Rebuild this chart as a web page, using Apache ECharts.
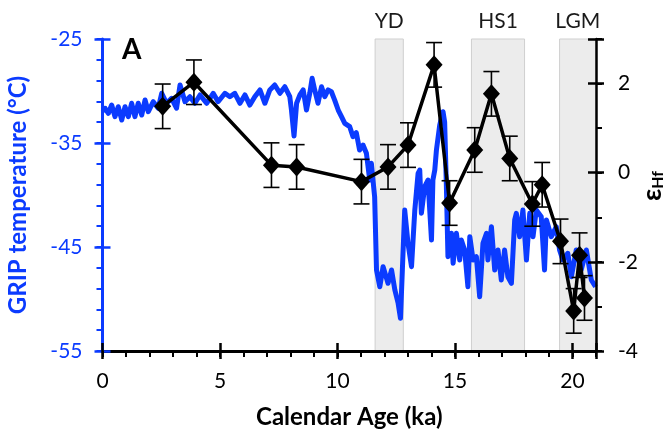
<!DOCTYPE html>
<html><head><meta charset="utf-8">
<script src="https://cdn.jsdelivr.net/npm/echarts@6/dist/echarts.min.js"></script>
<style>html,body{margin:0;padding:0;background:#fff}#c{width:670px;height:433px}</style>
</head><body><div id="c"></div>
<script>
// GRIP temperature record (ka, °C)
const gripAge = [0.02,0.11,0.25,0.39,0.53,0.67,0.82,0.96,1.10,1.24,1.38,1.52,1.67,1.81,1.95,2.16,2.37,2.52,2.73,2.94,3.15,3.30,3.51,3.72,3.93,4.15,4.43,4.71,4.92,5.21,5.42,5.63,5.85,6.06,6.27,6.48,6.70,6.91,7.12,7.33,7.55,7.76,7.97,8.04,8.15,8.26,8.40,8.54,8.68,8.82,8.92,9.03,9.17,9.32,9.46,9.60,9.74,9.88,10.03,10.17,10.31,10.52,10.66,10.80,10.94,11.09,11.23,11.37,11.44,11.58,11.66,11.80,11.94,12.15,12.30,12.44,12.58,12.68,12.76,12.86,13.00,13.15,13.29,13.43,13.50,13.57,13.71,13.85,14.00,14.06,14.14,14.21,14.35,14.49,14.56,14.63,14.70,14.85,14.92,15.06,15.20,15.27,15.41,15.55,15.63,15.77,15.91,16.05,16.19,16.34,16.40,16.55,16.69,16.83,16.97,17.11,17.25,17.40,17.54,17.61,17.75,17.89,18.04,18.18,18.32,18.46,18.67,18.81,18.89,19.10,19.31,19.45,19.59,19.80,19.95,20.16,20.37,20.59,20.80,20.98];
const gripTemp = [-32.0,-31.66,-32.14,-31.35,-32.47,-31.51,-32.79,-31.51,-32.47,-31.18,-32.47,-31.18,-32.31,-30.87,-31.99,-31.03,-31.66,-30.22,-31.18,-30.70,-31.66,-29.42,-31.03,-30.55,-31.18,-30.38,-31.18,-30.22,-31.03,-30.22,-30.55,-30.22,-31.18,-30.38,-31.35,-30.55,-29.90,-31.18,-29.90,-29.42,-30.22,-29.59,-30.55,-31.83,-34.33,-31.18,-30.38,-29.90,-31.83,-30.22,-28.78,-29.90,-31.18,-29.59,-30.55,-29.90,-30.07,-30.87,-31.83,-32.47,-33.11,-33.43,-34.39,-34.0,-35.67,-35.2,-35.99,-38.56,-36.95,-40.16,-47.21,-48.82,-46.89,-48.49,-47.21,-49.13,-50.41,-51.86,-47.21,-41.44,-44.64,-46.89,-41.44,-37.91,-37.60,-41.76,-39.20,-38.56,-44.33,-38.56,-37.60,-35.67,-33.27,-31.99,-33.0,-38.87,-45.93,-43.68,-46.57,-43.68,-46.25,-44.33,-45.29,-48.82,-44.01,-46.25,-45.93,-49.78,-44.64,-43.68,-46.25,-43.05,-47.21,-45.29,-48.17,-45.29,-47.86,-48.49,-42.40,-41.76,-44.01,-41.44,-46.25,-41.76,-44.01,-41.44,-42.09,-47.21,-42.40,-44.01,-43.05,-45.29,-46.25,-45.61,-47.86,-45.29,-47.21,-45.29,-48.17,-48.82];

// εHf record (ka, εHf, ±error)
const hfAge   = [2.56,3.89,7.19,8.26,11.02,12.15,13.00,14.11,14.77,15.84,16.55,17.33,18.29,18.71,19.49,20.05,20.30,20.51];
const hfValue = [1.49,2.03,0.17,0.13,-0.20,0.13,0.62,2.42,-0.68,0.51,1.77,0.32,-0.70,-0.27,-1.54,-3.10,-1.85,-2.81];
const hfError = [0.5,0.5,0.5,0.5,0.5,0.5,0.5,0.5,0.5,0.5,0.5,0.5,0.5,0.5,0.5,0.5,0.5,0.5];

// climate intervals
const bandNames = ['YD','HS1','LGM'];
const bandStart = [11.6,15.7,19.45];
const bandEnd   = [12.8,17.96,21];

const xMajorLabels = [0,5,10,15,20];
const tempLabels = [-55,-45,-35,-25];
const hfLabels = [-4,-2,0,2];

const FONT = 'Lato';
const BLUE = '#0b3bff';

const chart = echarts.init(document.getElementById('c'), null, {renderer:'canvas'});

function baseX(extra){
  return Object.assign({type:'value', min:0, max:21, position:'bottom', gridIndex:0,
    splitLine:{show:false}, axisLine:{show:false, onZero:false}, axisLabel:{show:false}}, extra);
}
function baseY(extra){
  return Object.assign({type:'value', gridIndex:0,
    splitLine:{show:false}, axisLine:{show:false, onZero:false}, axisLabel:{show:false}}, extra);
}

const option = {
  animation:false,
  backgroundColor:'#fff',
  textStyle:{fontFamily:FONT},
  grid:{left:102.5, right:74, top:39, bottom:82, containLabel:false, outerBoundsMode:'none'},
  graphic:[
    {type:'text', left:122, top:36, style:{text:'A', font:'bold 28px '+FONT, fill:'#000'}},
    {type:'text', x:652, y:186, rotation:Math.PI/2,
      style:{text:'{e|ε}{s|Hf}', align:'center', verticalAlign:'middle',
        rich:{
          e:{fontSize:27, fontWeight:'bold', fill:'#000', color:'#000', fontFamily:FONT},
          s:{fontSize:16, fontWeight:'bold', fill:'#000', color:'#000', fontFamily:FONT, padding:[12,0,0,0]}
        }}}
  ],
  xAxis:[
    baseX({interval:5, z:5,
      axisLine:{show:true, onZero:false, lineStyle:{color:'#000', width:3}},
      axisTick:{show:true, length:8, lineStyle:{color:'#000', width:2.5}},
      axisLabel:{show:true, fontSize:21, color:'#000', margin:20, fontFamily:FONT,
        formatter:v => xMajorLabels.indexOf(v) >= 0 ? String(v) : ''},
      name:'Calendar Age (ka)', nameLocation:'middle', nameGap:54,
      nameTextStyle:{fontSize:24, fontWeight:'bold', color:'#000', fontFamily:FONT}}),
    baseX({interval:1, z:5, axisTick:{show:true, length:6, lineStyle:{color:'#000', width:2}}}),
    baseX({interval:5, z:5, axisTick:{show:true, inside:true, length:8, lineStyle:{color:'#000', width:2.5}}})
  ],
  yAxis:[
    baseY({min:-55, max:-25, interval:10, position:'left', z:5,
      axisLine:{show:true, onZero:false, lineStyle:{color:BLUE, width:3}},
      axisTick:{show:true, length:8, lineStyle:{color:BLUE, width:2.5}},
      axisLabel:{show:true, fontSize:21, color:BLUE, margin:20, fontFamily:FONT,
        formatter:v => tempLabels.indexOf(v) >= 0 ? String(v) : ''},
      name:'GRIP temperature (°C)', nameLocation:'middle', nameGap:72, nameRotate:90,
      nameTextStyle:{fontSize:24, fontWeight:'bold', color:BLUE, fontFamily:FONT}}),
    baseY({min:-55, max:-25, interval:2, position:'left', z:5,
      axisTick:{show:true, length:6, lineStyle:{color:BLUE, width:2}}}),
    baseY({min:-55, max:-25, interval:10, position:'left', z:5,
      axisTick:{show:true, inside:true, length:8, lineStyle:{color:BLUE, width:2.5}}}),
    baseY({min:-4, max:3, interval:2, position:'right', z:5,
      axisLine:{show:true, onZero:false, lineStyle:{color:'#000', width:2.5}},
      axisTick:{show:true, length:8, lineStyle:{color:'#000', width:2.5}},
      axisLabel:{show:true, fontSize:21, color:'#000', margin:22, fontFamily:FONT,
        formatter:v => hfLabels.indexOf(v) >= 0 ? String(v) : ''}}),
    baseY({min:-4, max:3, interval:1, position:'right', z:5,
      axisTick:{show:true, length:6, lineStyle:{color:'#000', width:2}}}),
    baseY({min:-4, max:3, interval:2, position:'right', z:5,
      axisTick:{show:true, inside:true, length:8, lineStyle:{color:'#000', width:2.5}}})
  ],
  series:[
    {
      name:'GRIP', type:'line', xAxisIndex:0, yAxisIndex:0, z:2,
      data: gripAge.map((a,i)=>[a, gripTemp[i]]),
      showSymbol:false, symbol:'none',
      lineStyle:{color:BLUE, width:5, join:'round'},
      markArea:{
        silent:true,
        itemStyle:{color:'#ececec', borderColor:'#cfcfcf', borderWidth:1},
        label:{show:true, position:'top', distance:7, color:'#1a1a1a', fontSize:21, fontFamily:FONT},
        data: bandNames.map((n,i)=>[{name:n, xAxis:bandStart[i]}, {xAxis:bandEnd[i]}])
      }
    },
    {
      name:'err', type:'custom', xAxisIndex:0, yAxisIndex:3, z:3,
      data: hfAge.map((a,i)=>[a, hfValue[i]-hfError[i], hfValue[i]+hfError[i]]),
      encode:{x:0, y:[1,2]},
      renderItem:function(params, api){
        const x = api.value(0);
        const pLo = api.coord([x, api.value(1)]);
        const pHi = api.coord([x, api.value(2)]);
        const w = 8;
        const st = {stroke:'#000', lineWidth:1.6};
        return {type:'group', children:[
          {type:'line', shape:{x1:pLo[0], y1:pLo[1], x2:pHi[0], y2:pHi[1]}, style:st},
          {type:'line', shape:{x1:pLo[0]-w, y1:pLo[1], x2:pLo[0]+w, y2:pLo[1]}, style:st},
          {type:'line', shape:{x1:pHi[0]-w, y1:pHi[1], x2:pHi[0]+w, y2:pHi[1]}, style:st}
        ]};
      }
    },
    {
      name:'Hf', type:'line', xAxisIndex:0, yAxisIndex:3, z:4,
      data: hfAge.map((a,i)=>[a, hfValue[i]]),
      symbol:'diamond', symbolSize:[17,19], showSymbol:true,
      itemStyle:{color:'#000'},
      lineStyle:{color:'#000', width:3.5}
    }
  ]
};
chart.setOption(option);
</script>
</body></html>
